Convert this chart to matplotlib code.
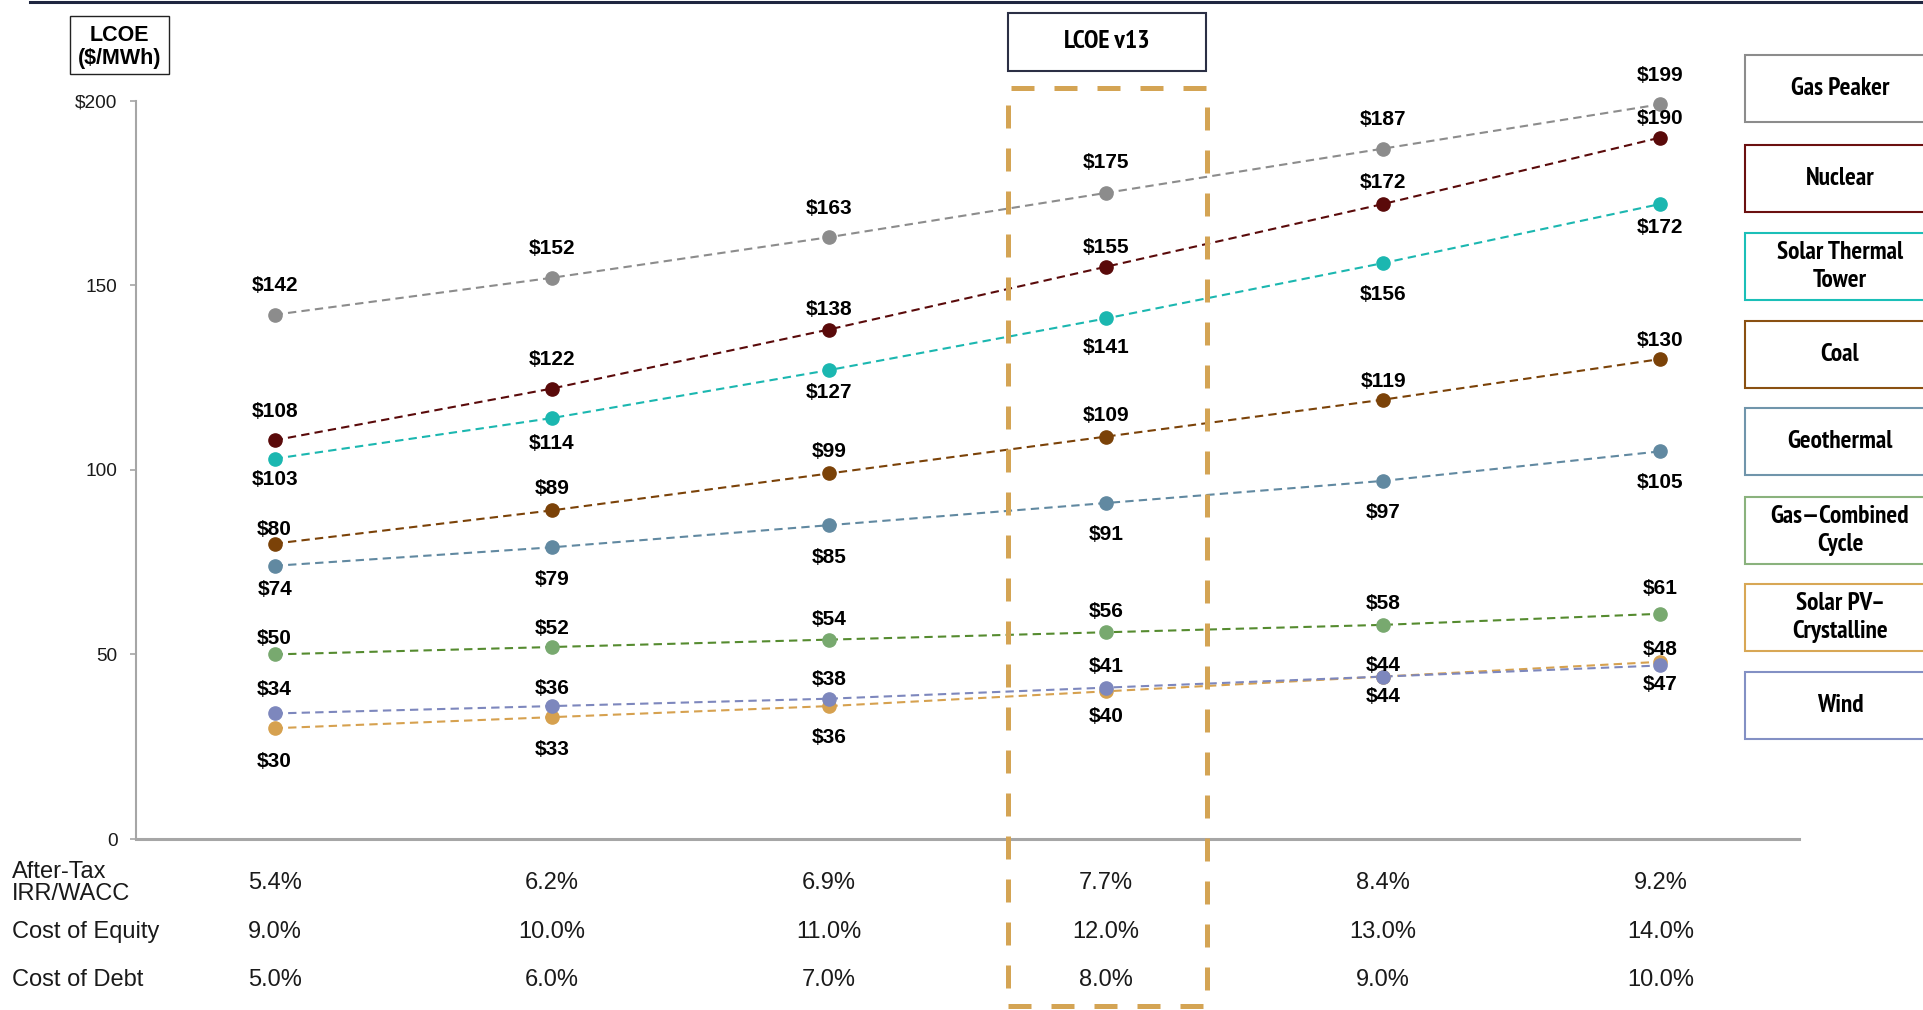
import matplotlib
matplotlib.use('Agg')
import matplotlib.pyplot as plt
import matplotlib.transforms as mtrans
from matplotlib import font_manager
from matplotlib.font_manager import FontProperties
from matplotlib.textpath import TextPath
from matplotlib.patches import Rectangle
from matplotlib.lines import Line2D
import numpy as np

plt.rcParams['font.family'] = ['Liberation Sans', 'DejaVu Sans']

# ---- data ----
wacc = [5.4, 6.2, 6.9, 7.7, 8.4, 9.2]
cost_equity = [9.0, 10.0, 11.0, 12.0, 13.0, 14.0]
cost_debt = [5.0, 6.0, 7.0, 8.0, 9.0, 10.0]

technologies = ['Gas Peaker', 'Nuclear', 'Solar Thermal\nTower', 'Coal',
                'Geothermal', 'Gas\u2014Combined\nCycle', 'Solar PV\u2013\nCrystalline', 'Wind']
gas_peaker = [142, 152, 163, 175, 187, 199]
nuclear = [108, 122, 138, 155, 172, 190]
solar_thermal = [103, 114, 127, 141, 156, 172]
coal = [80, 89, 99, 109, 119, 130]
geothermal = [74, 79, 85, 91, 97, 105]
gas_cc = [50, 52, 54, 56, 58, 61]
solar_pv = [30, 33, 36, 40, 44, 48]
wind = [34, 36, 38, 41, 44, 47]
series = [gas_peaker, nuclear, solar_thermal, coal, geothermal, gas_cc, solar_pv, wind]

# ---- style ----
line_colors = ['#8c8c8c', '#5a0a0a', '#1bb7b0', '#7b4208', '#6189a1', '#558b2f', '#d6a14f', '#7d87bd']
marker_colors = ['#8c8c8c', '#5a0a0a', '#1bb7b0', '#7b4208', '#6189a1', '#78a96f', '#d6a14f', '#7d87bd']
box_colors = ['#8c8c8c', '#6b1010', '#1bbfb8', '#8a5012', '#7095ab', '#8ab27d', '#d8a755', '#8390c4']
# label offsets in pixels (positive = above the point)
label_off = [
    [29, 29, 29, 30, 29, 29],
    [29, 29, 20, 19, 21, 19],
    [-21, -25, -22, -29, -31, -24],
    [14, 22, 22, 21, 18, 19],
    [-24, -32, -32, -31, -32, -31],
    [16, 19, 20, 21, 21, 25],
    [-33, -32, -31, -25, -20, 12],
    [24, 18, 19, 21, 11, -19],
]


# pick a mildly condensed bold face for the boxed labels (Arial Narrow look)
def find_condensed():
    best, best_score = None, 0
    for f in font_manager.fontManager.ttflist:
        name = (f.name + ' ' + f.fname).lower()
        if 'dejavu' in name or 'mono' in name or 'italic' in name or 'oblique' in name:
            continue
        w = f.weight if isinstance(f.weight, int) else (700 if 'bold' in str(f.weight) else 400)
        st = str(f.stretch)
        if 'narrow' in name:
            score = 10
        elif st == 'semi-condensed' or 'semicondensed' in name:
            score = 8
        elif st == 'condensed' or ('condensed' in name and 'extra' not in name and 'ultra' not in name):
            score = 6
        else:
            continue
        if w == 700:
            score += 2
        elif w == 600:
            score += 1
        else:
            continue
        if score > best_score:
            best, best_score = f, score
    return FontProperties(fname=best.fname) if best else None


box_fp = find_condensed()
if box_fp is None:
    box_fp = FontProperties(family='Liberation Sans', weight='bold')


def fit_size(s, fp, width_px, cap_px):
    # average of the size that matches the width and the one that matches cap height
    w = TextPath((0, 0), s, size=10, prop=fp).get_extents().width
    h = TextPath((0, 0), 'H', size=10, prop=fp).get_extents().height
    return 0.5 * (10 * width_px * 0.72 / w + 10 * cap_px * 0.72 / h)


box_size = fit_size('Gas Peaker', box_fp, 104, 16.7)
v13_size = fit_size('LCOE v13', box_fp, 90, 16.7)

W, H = 1923, 1010
fig = plt.figure(figsize=(W / 100, H / 100), dpi=100)


def fx(px):
    return px / W


def fy(py):
    return 1 - py / H


ax = fig.add_axes([fx(136), fy(839), (1799 - 136) / W, (839 - 100.6) / H])
x = np.arange(len(wacc)) + 0.5

for vals, lc, mc, offs in zip(series, line_colors, marker_colors, label_off):
    ax.plot(x, vals, linestyle=(0, (4, 2.5)), color=lc, linewidth=1.5, zorder=2, clip_on=False)
    ax.plot(x, vals, 'o', color=mc, markersize=9.5, zorder=3, clip_on=False)
    for xi, v, o in zip(x, vals, offs):
        ax.annotate(f'${v}', xy=(xi, v), xytext=(0, o * 0.72), textcoords='offset points',
                    ha='center', va='center', fontsize=15, fontweight='bold', color='black',
                    zorder=4)

ax.set_xlim(0, 6)
ax.set_ylim(0, 200)
ax.set_yticks([0, 50, 100, 150, 200])
ax.set_yticklabels(['0', '50', '100', '150', '$200'])
ax.set_xticks([])
for s in ['top', 'right']:
    ax.spines[s].set_visible(False)
ax.spines['left'].set_color('#a6a6a6')
ax.spines['left'].set_linewidth(1.5)
ax.spines['bottom'].set_color('#a6a6a6')
ax.spines['bottom'].set_linewidth(2.2)
ax.tick_params(axis='y', length=4.3, width=1.2, color='#a6a6a6', pad=9, labelsize=13.7,
               labelcolor='#1a1a1a')
ax.patch.set_alpha(0)

# table under the axis
trans = mtrans.blended_transform_factory(ax.transData, fig.transFigure)
rows = [('After-Tax\nIRR/WACC', wacc, 883), ('Cost of Equity', cost_equity, 932),
        ('Cost of Debt', cost_debt, 980)]
for name, vals, yp in rows:
    fig.text(fx(12), fy(yp), name, ha='left', va='center', fontsize=17, color='#1a1a1a',
             linespacing=1.05)
    for xi, v in zip(x, vals):
        ax.text(xi, fy(yp), f'{v:.1f}%', transform=trans, ha='center', va='center',
                fontsize=17, color='#1a1a1a')

# top rule
fig.add_artist(Line2D([fx(30), 1], [fy(1.5), fy(1.5)], color='#1f2640', linewidth=2.2))

# unit box
fig.add_artist(Rectangle((fx(70), fy(74)), (169 - 70) / W, (74 - 16) / H,
                         facecolor='white', edgecolor='#222222', linewidth=1.0))
fig.text(fx(119.5), fy(47), 'LCOE\n($/MWh)', ha='center', va='center', fontsize=15.5,
         fontweight='bold', linespacing=1.15)

# version box
fig.add_artist(Rectangle((fx(1008), fy(71)), (1206 - 1008) / W, (71 - 13) / H,
                         facecolor='white', edgecolor='#2b2f45', linewidth=1.5))
fig.text(fx(1107), fy(42), 'LCOE v13', ha='center', va='center', fontproperties=box_fp,
         fontsize=v13_size)

# highlighted column
fig.add_artist(Rectangle((fx(1008), fy(1006)), (1207 - 1008) / W, (1006 - 88) / H,
                         facecolor='none', edgecolor='#d4a454', linewidth=3.6,
                         linestyle=(0, (4.6, 4.0)), zorder=5))

# legend boxes
box_tops = [55, 145, 233, 321, 408, 497, 584, 672]
ls = 26 / (1.096 * box_size)
for name, ec, top in zip(technologies, box_colors, box_tops):
    fig.add_artist(Rectangle((fx(1745), fy(top + 67)), (1940 - 1745) / W, 67 / H,
                             facecolor='white', edgecolor=ec, linewidth=1.5))
    fig.text(fx(1840), fy(top + 33.5), name, ha='center', va='center', fontproperties=box_fp,
             fontsize=box_size, linespacing=ls)

fig.savefig('out.png', dpi=100)
